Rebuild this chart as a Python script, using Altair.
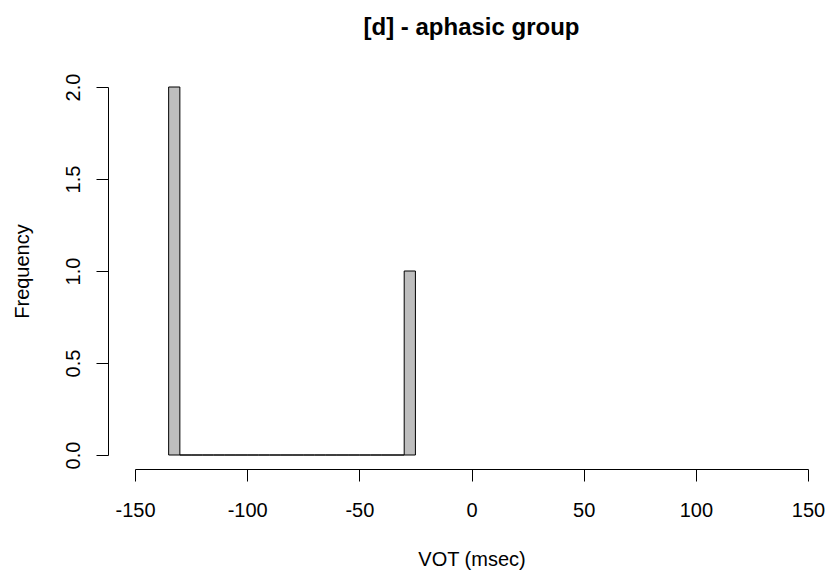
import altair as alt
import pandas as pd

# Histogram bins (width 5 msec) and counts
bin_start = [-135, -130, -125, -120, -115, -110, -105, -100, -95, -90, -85, -80,
             -75, -70, -65, -60, -55, -50, -45, -40, -35, -30]
bin_width = 5
counts = [2, 0, 0, 0, 0, 0, 0, 0, 0, 0, 0, 0, 0, 0, 0, 0, 0, 0, 0, 0, 0, 1]

x_ticks = [-150, -100, -50, 0, 50, 100, 150]
y_ticks = [0.0, 0.5, 1.0, 1.5, 2.0]

df = pd.DataFrame({
    "start": bin_start,
    "end": [b + bin_width for b in bin_start],
    "count": counts,
    "base": [0] * len(counts),
})

FONT = "Liberation Sans"

chart = alt.Chart(df).mark_rect(
    fill="#BEBEBE", stroke="#000000", strokeWidth=1
).encode(
    x=alt.X("start:Q",
            scale=alt.Scale(domain=[-150, 150], nice=False, zero=False),
            axis=alt.Axis(values=x_ticks, title="VOT (msec)", grid=False,
                          offset=14, tickSize=12, labelPadding=19,
                          titlePadding=29,
                          labelExpr="'' + datum.value")),
    x2="end:Q",
    y=alt.Y("base:Q",
            scale=alt.Scale(domain=[0, 2], nice=False),
            axis=alt.Axis(values=y_ticks, title="Frequency", grid=False,
                          offset=27, tickSize=12, labelPadding=13,
                          labelAngle=270, labelAlign="center",
                          labelBaseline="bottom", format=".1f",
                          titlePadding=31)),
    y2="count:Q",
).properties(
    width=673,
    height=368,
    title=alt.Title("[d] - aphasic group", fontSize=24, font=FONT,
                    fontWeight="bold", color="#000000", offset=33,
                    frame="group", anchor="middle"),
    autosize=alt.AutoSizeParams(type="none"),
    padding={"left": 135, "top": 87, "right": 20, "bottom": 116},
    background="white",
).configure_view(
    stroke=None
).configure_axis(
    domainColor="#000000", tickColor="#000000", domainWidth=1, tickWidth=1,
    labelFont=FONT, titleFont=FONT, labelFontSize=20, titleFontSize=20,
    labelColor="#000000", titleColor="#000000", titleFontWeight="normal",
    labelFlush=False, labelOverlap=False
)

chart.save("out.html", embed_options={"renderer": "svg", "actions": False})
